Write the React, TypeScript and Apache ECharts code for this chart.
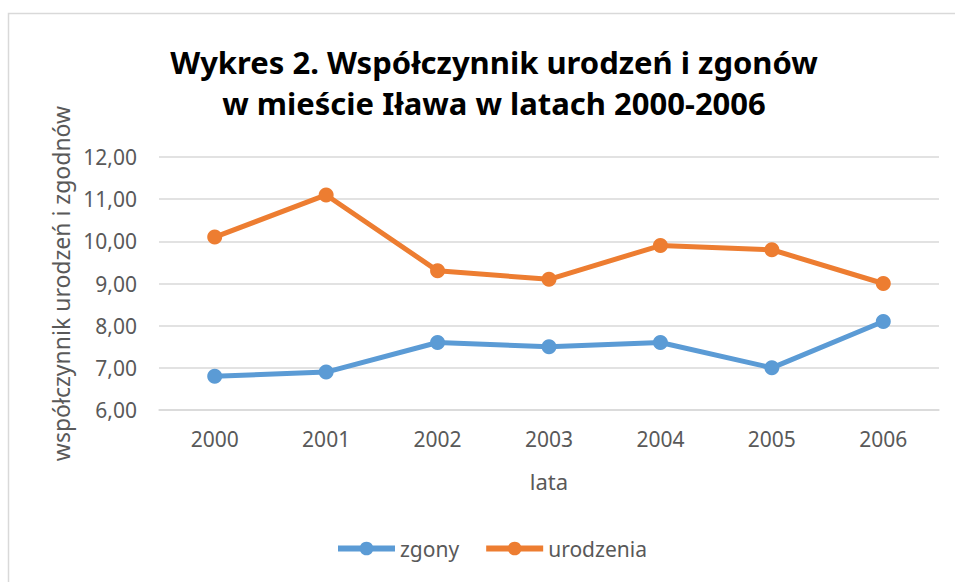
import React, { useEffect, useRef } from "react";
import * as echarts from "echarts";

const years = ["2000", "2001", "2002", "2003", "2004", "2005", "2006"];
const zgony = [6.8, 6.9, 7.6, 7.5, 7.6, 7.0, 8.1];
const urodzenia = [10.1, 11.1, 9.3, 9.1, 9.9, 9.8, 9.0];
const titleLines = ["Wykres 2. Współczynnik urodzeń i zgonów", "w mieście Iława w latach 2000-2006"];

const FONT = "'Noto Sans', 'Open Sans', sans-serif";
const GRAY = "#595959";

export default function App() {
  const ref = useRef<HTMLDivElement>(null);
  useEffect(() => {
    document.body.style.margin = "0";
    const chart = echarts.init(ref.current!, null, { renderer: "svg" });
    chart.setOption({
      animation: false,
      backgroundColor: "#ffffff",
      textStyle: { fontFamily: FONT },
      graphic: [
        {
          type: "rect",
          shape: { x: 8.5, y: 13.5, width: 1200, height: 1200 },
          style: { fill: "none", stroke: "#d9d9d9", lineWidth: 1.5 },
          silent: true,
        },
      ],
      title: {
        text: titleLines.join("\n"),
        left: 489,
        textAlign: "center",
        top: 36,
        textStyle: {
          fontFamily: FONT,
          fontSize: 31,
          fontWeight: "bold",
          color: "#000000",
          lineHeight: 41,
        },
      },
      legend: {
        bottom: 18,
        left: 330,
        itemWidth: 57,
        itemHeight: 17,
        itemGap: 24,
        lineStyle: { width: 6 },
        textStyle: { fontFamily: FONT, fontSize: 21, color: GRAY },
        data: ["zgony", "urodzenia"],
      },
      grid: { left: 159, right: 16, top: 157, bottom: 172 },
      xAxis: {
        type: "category",
        data: years,
        boundaryGap: true,
        name: "lata",
        nameLocation: "middle",
        nameGap: 60,
        nameTextStyle: { fontFamily: FONT, fontSize: 22, color: GRAY },
        axisLine: { show: true, lineStyle: { color: "#d9d9d9", width: 1.5 } },
        axisTick: { show: false },
        axisLabel: { fontFamily: FONT, fontSize: 21, color: GRAY, margin: 18 },
      },
      yAxis: {
        type: "value",
        min: 6,
        max: 12,
        interval: 1,
        name: "współczynnik urodzeń i zgodnów",
        nameLocation: "middle",
        nameGap: 84,
        nameTextStyle: { fontFamily: FONT, fontSize: 23, color: GRAY },
        axisLine: { show: false },
        axisTick: { show: false },
        splitLine: { lineStyle: { color: "#d9d9d9", width: 1.5 } },
        axisLabel: {
          fontFamily: FONT,
          fontSize: 21,
          color: GRAY,
          margin: 22,
          formatter: (v: number) => v.toFixed(2).replace(".", ","),
        },
      },
      series: [
        {
          name: "zgony",
          type: "line",
          data: zgony,
          color: "#5B9BD5",
          symbol: "circle",
          symbolSize: 15,
          lineStyle: { width: 5, color: "#5B9BD5" },
          itemStyle: { color: "#5B9BD5" },
        },
        {
          name: "urodzenia",
          type: "line",
          data: urodzenia,
          color: "#ED7D31",
          symbol: "circle",
          symbolSize: 15,
          lineStyle: { width: 5, color: "#ED7D31" },
          itemStyle: { color: "#ED7D31" },
        },
      ],
    });
    return () => chart.dispose();
  }, []);
  return <div ref={ref} style={{ width: 955, height: 582 }} />;
}
